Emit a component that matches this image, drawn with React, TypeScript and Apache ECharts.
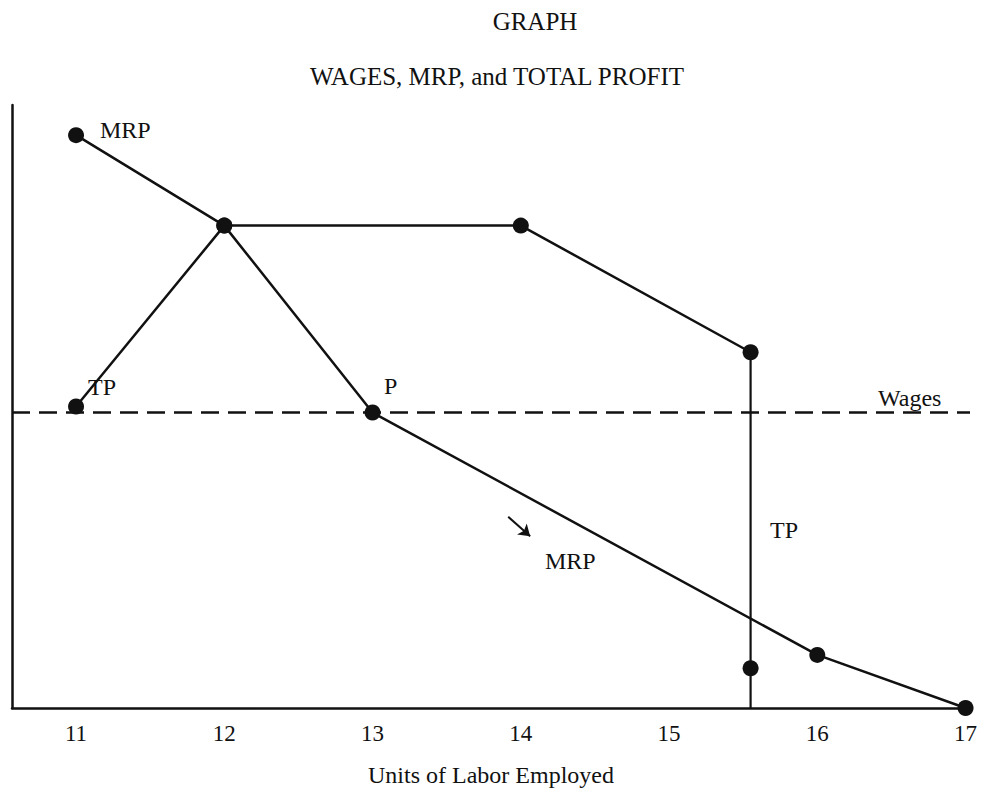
import React, { useEffect, useRef } from "react";
import * as echarts from "echarts";

const xTicks = [11, 12, 13, 14, 15, 16, 17];
const xMin = 10.568;
const xMax = 17.03;
const mrpData = [[11, 95], [12, 80], [13, 49], [16, 8.8], [17, 0]];
const tpData = [[11, 50], [12, 80], [14, 80], [15.55, 59]];
const tpDrop = [[15.55, 59], [15.55, 0]];
const tpLowPoint = [[15.55, 6.6]];
const wageLevel = 49;
const arrowFrom = [13.915, 31.7];
const arrowTo = [14.063, 28.5];

const FONT = "Liberation Serif";
const INK = "#111";

export default function App() {
  const ref = useRef<HTMLDivElement>(null);
  useEffect(() => {
    const chart = echarts.init(ref.current!, null, { renderer: "svg" });
    const txt = (x: number, y: number, t: string, size = 24) => ({
      type: "text",
      x,
      y,
      style: { text: t, fill: INK, font: `${size}px "${FONT}"`, textVerticalAlign: "middle" },
    });
    chart.setOption({
      animation: false,
      backgroundColor: "#fff",
      title: [
        { text: "GRAPH", left: 535, top: 9, padding: 0, textAlign: "center", textStyle: { fontFamily: FONT, fontWeight: "normal", fontSize: 25, color: INK } },
        { text: "WAGES, MRP, and TOTAL PROFIT", left: 497, top: 64, padding: 0, textAlign: "center", textStyle: { fontFamily: FONT, fontWeight: "normal", fontSize: 25, color: INK } },
      ],
      grid: { left: 12, right: 12, top: 105, bottom: 83, containLabel: false, outerBoundsMode: "none" },
      xAxis: {
        type: "value",
        min: xMin,
        max: xMax,
        axisLine: { show: true, lineStyle: { color: INK, width: 2.5 } },
        axisTick: { show: false },
        splitLine: { show: false },
        axisLabel: { customValues: xTicks, color: INK, fontFamily: FONT, fontSize: 23, margin: 14 },
        name: "Units of Labor Employed",
        nameLocation: "middle",
        nameGap: 55,
        nameTextStyle: { fontFamily: FONT, fontSize: 24, color: INK },
      },
      yAxis: {
        type: "value",
        min: 0,
        max: 100,
        axisLine: { show: true, lineStyle: { color: INK, width: 2.5 } },
        axisTick: { show: false },
        axisLabel: { show: false },
        splitLine: { show: false },
      },
      series: [
        {
          type: "line",
          data: [[xMin, wageLevel], [xMax, wageLevel]],
          showSymbol: false,
          symbol: "none",
          lineStyle: { color: INK, width: 2.5, type: [18, 9] },
          silent: true,
        },
        {
          type: "line",
          data: mrpData,
          symbol: "circle",
          symbolSize: 16,
          itemStyle: { color: INK, opacity: 1 },
          lineStyle: { color: INK, width: 2.5 },
          markLine: {
            silent: true,
            symbol: ["none", "arrow"],
            symbolSize: 11,
            label: { show: false },
            lineStyle: { color: INK, width: 2, type: "solid" },
            data: [[{ coord: arrowFrom }, { coord: arrowTo }]],
          },
        },
        {
          type: "line",
          data: tpData,
          symbol: "circle",
          symbolSize: 16,
          itemStyle: { color: INK, opacity: 1 },
          lineStyle: { color: INK, width: 2.5 },
        },
        {
          type: "line",
          data: tpDrop,
          symbol: "none",
          lineStyle: { color: INK, width: 2.2 },
        },
        {
          type: "scatter",
          data: tpLowPoint,
          symbol: "circle",
          symbolSize: 16,
          itemStyle: { color: INK, opacity: 1 },
        },
      ],
      graphic: [
        txt(100, 130, "MRP"),
        txt(88, 387, "TP"),
        txt(384, 386, "P"),
        txt(878, 398, "Wages"),
        txt(770, 530, "TP"),
        txt(545, 561, "MRP"),
      ],
    });
    return () => chart.dispose();
  }, []);
  return <div ref={ref} style={{ position: "absolute", left: 0, top: 0, width: 982, height: 791 }} />;
}
